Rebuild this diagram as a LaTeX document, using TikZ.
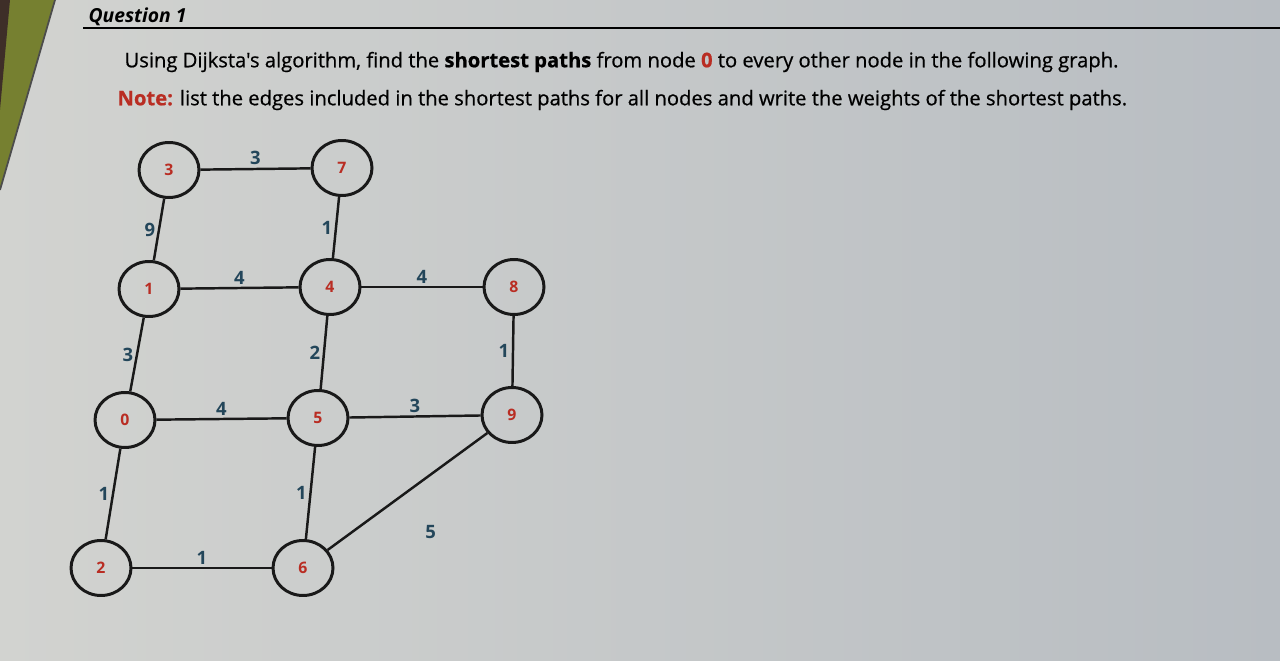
\documentclass[tikz,border=0pt]{standalone}
\usepackage{fontspec}
\setmainfont{Open Sans}
\newfontfamily\questfont{Open Sans}[FakeBold=0.6]
\usepackage{xcolor}
\usetikzlibrary{shapes.geometric,positioning}
\definecolor{nodered}{RGB}{185,45,35}
\definecolor{wtblue}{RGB}{35,70,90}
\definecolor{paperlight}{RGB}{210,211,208}
\definecolor{paperdark}{RGB}{184,189,194}
\definecolor{bezelgreen}{RGB}{118,128,48}
\definecolor{bezeldark}{RGB}{62,46,40}

\begin{document}
\begin{tikzpicture}[x=0.02cm, y=-0.02cm, thick,
    vertex/.style={ellipse, draw=black!90, line width=1.7pt,
        minimum width=1.2cm, minimum height=1.1cm, inner sep=0pt,
        font=\bfseries\small, text=nodered},
    link/.style={draw=black!90, line width=1.4pt},
    wt/.style={font=\bfseries\fontsize{10.5}{12}\selectfont, text=wtblue, inner sep=1.5pt}]
    \useasboundingbox (0,0) rectangle (1280,661);
    \shade[left color=paperlight, right color=paperdark] (0,0) rectangle (1280,661);
    % screen edge on the left
    \fill[bezelgreen] (0,0) -- (55,0) -- (0,190) -- cycle;
    \fill[bezeldark] (0,0) -- (10,0) -- (0,110) -- cycle;
    \draw[black!70, line width=1pt] (55,0) -- (0,190);

    % heading and question text
    \node[anchor=west, font=\bfseries\itshape\fontsize{11}{13}\selectfont] (title) at (82,17) {Question 1};
    \draw[line width=0.8pt] (83,28) -- (1280,28);
    \node[anchor=west, font=\questfont\fontsize{11.5}{14}\selectfont] (task) at (118,62) {Using Dijksta's algorithm, find the \textbf{shortest paths} from node \textbf{\color{nodered}0} to every other node in the following graph.};
    \node[anchor=west, font=\questfont\fontsize{11.5}{14}\selectfont] (note) at (111,100) {\textbf{\color{nodered}Note:} list the edges included in the shortest paths for all nodes and write the weights of the shortest paths.};

    % vertices
    \node[vertex] (v3) at (169,170) {3};
    \node[vertex] (v7) at (342,168) {7};
    \node[vertex] (v1) at (149,289) {1};
    \node[vertex] (v4) at (330,287) {4};
    \node[vertex] (v8) at (514,287) {8};
    \node[vertex] (v0) at (125,420) {0};
    \node[vertex] (v5) at (318,418) {5};
    \node[vertex] (v9) at (512,415) {9};
    \node[vertex] (v2) at (101,568) {2};
    \node[vertex] (v6) at (303,568) {6};

    % weighted edges
    \draw[link] (v3) -- node[wt, above] {3} (v7);
    \draw[link] (v3) -- node[wt, left] {9} (v1);
    \draw[link] (v7) -- node[wt, left] {1} (v4);
    \draw[link] (v1) -- node[wt, above] {4} (v4);
    \draw[link] (v4) -- node[wt, above] {4} (v8);
    \draw[link] (v1) -- node[wt, left] {3} (v0);
    \draw[link] (v4) -- node[wt, left] {2} (v5);
    \draw[link] (v8) -- node[wt, left] {1} (v9);
    \draw[link] (v0) -- node[wt, above] {4} (v5);
    \draw[link] (v5) -- node[wt, above] {3} (v9);
    \draw[link] (v0) -- node[wt, left] {1} (v2);
    \draw[link] (v5) -- node[wt, left] {1} (v6);
    \draw[link] (v2) -- node[wt, above] {1} (v6);
    \draw[link] (v6) -- node[wt, below right=17pt and 8pt] {5} (v9);
\end{tikzpicture}
\end{document}
